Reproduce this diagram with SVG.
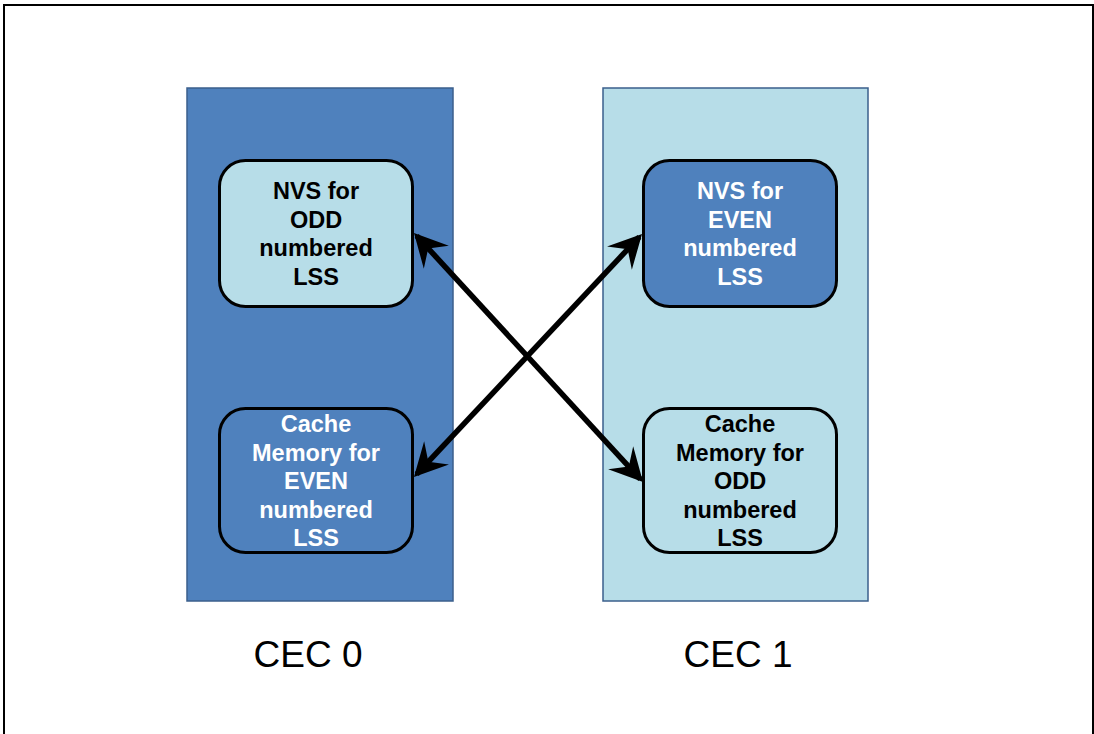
<svg xmlns="http://www.w3.org/2000/svg" width="1094" height="734" viewBox="0 0 1094 734">
<style>
.bg{fill:#ffffff}
.frame{fill:none;stroke:#000;stroke-width:2}
.panel{stroke:#3b5f8c;stroke-width:1.5}
.dark{fill:#4f81bd}
.light{fill:#b7dde8}
.box{stroke:#000;stroke-width:3}
.t{font-family:"Liberation Sans",Arial,sans-serif;font-weight:bold;font-size:23.5px;text-anchor:middle}
.tb{fill:#000}
.tw{fill:#fff}
.cec{font-family:"Liberation Sans",Arial,sans-serif;font-size:37px;fill:#000;text-anchor:middle}
.conn{stroke:#000;stroke-width:5.5;fill:none;marker-start:url(#ah);marker-end:url(#ah)}
</style>
<defs>
<marker id="ah" markerUnits="userSpaceOnUse" viewBox="-36 -20 40 40" refX="-4" refY="0" markerWidth="40" markerHeight="40" orient="auto-start-reverse">
<path d="M0,0 L-33,-17 L-21,0 L-33,17 Z" fill="#000"/>
</marker>
</defs>
<rect class="bg" x="0" y="0" width="1094" height="734"/>
<path class="frame" d="M4,734 V5 H1093 V734"/>
<g id="cec0">
<rect class="panel dark" x="187" y="88" width="266" height="513"/>
<text class="cec" x="308" y="667">CEC 0</text>
</g>
<g id="cec1">
<rect class="panel light" x="603" y="88" width="265" height="513"/>
<text class="cec" x="738" y="667">CEC 1</text>
</g>
<g id="nvs-odd">
<rect class="box light" x="219.5" y="160.5" width="193" height="146" rx="26"/>
<text class="t tb" x="316" y="199">NVS for</text>
<text class="t tb" x="316" y="227.5">ODD</text>
<text class="t tb" x="316" y="256">numbered</text>
<text class="t tb" x="316" y="284.5">LSS</text>
</g>
<g id="nvs-even">
<rect class="box dark" x="643.5" y="160.5" width="193" height="146" rx="26"/>
<text class="t tw" x="740" y="199">NVS for</text>
<text class="t tw" x="740" y="227.5">EVEN</text>
<text class="t tw" x="740" y="256">numbered</text>
<text class="t tw" x="740" y="284.5">LSS</text>
</g>
<g id="cache-even">
<rect class="box dark" x="219.5" y="408.5" width="193" height="144" rx="26"/>
<text class="t tw" x="316" y="432">Cache</text>
<text class="t tw" x="316" y="460.5">Memory for</text>
<text class="t tw" x="316" y="489">EVEN</text>
<text class="t tw" x="316" y="517.5">numbered</text>
<text class="t tw" x="316" y="546">LSS</text>
</g>
<g id="cache-odd">
<rect class="box light" x="643.5" y="408.5" width="193" height="144" rx="26"/>
<text class="t tb" x="740" y="432">Cache</text>
<text class="t tb" x="740" y="460.5">Memory for</text>
<text class="t tb" x="740" y="489">ODD</text>
<text class="t tb" x="740" y="517.5">numbered</text>
<text class="t tb" x="740" y="546">LSS</text>
</g>
<g id="connectors">
<line class="conn" x1="416.7" y1="235.9" x2="640.3" y2="479.1"/>
<line class="conn" x1="416.7" y1="474.1" x2="639.3" y2="236.9"/>
</g>
</svg>
